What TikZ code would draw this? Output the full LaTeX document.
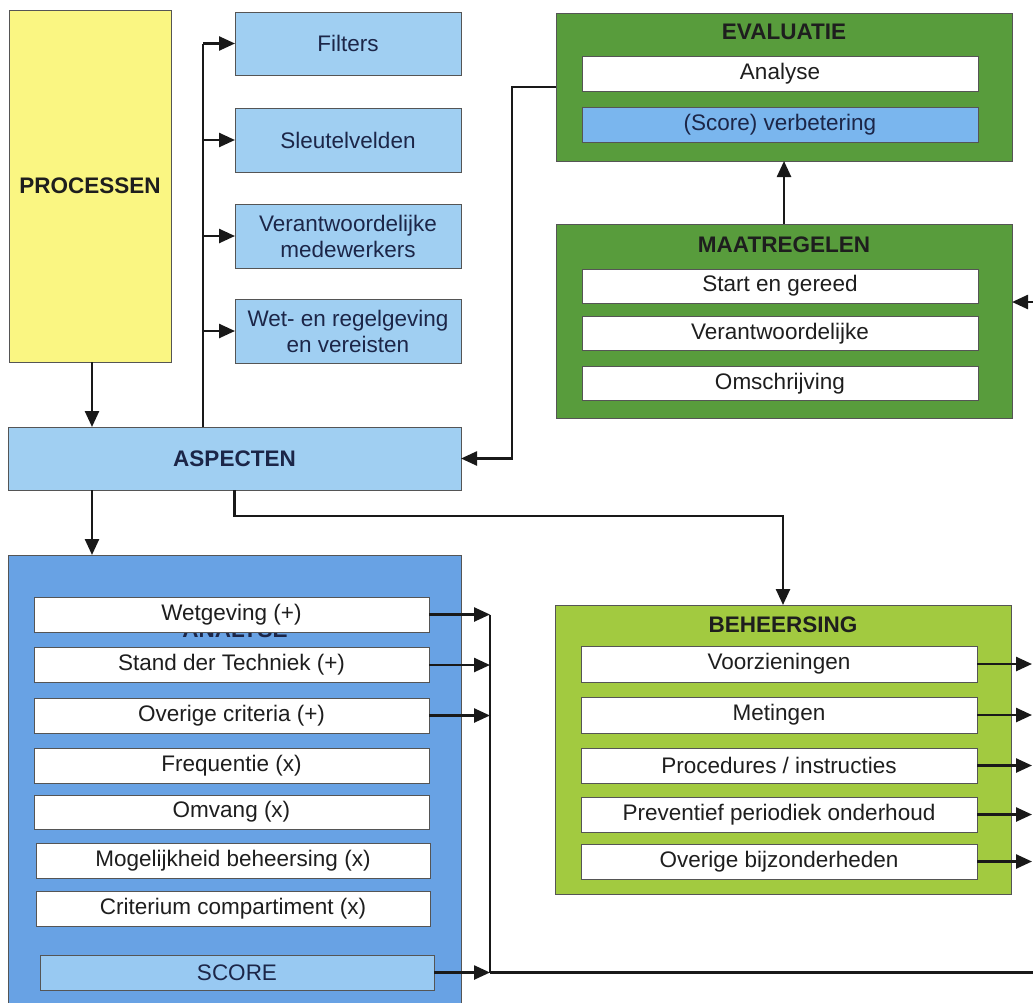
\documentclass[tikz,border=0pt]{standalone}
\usepackage{fontspec}
\setmainfont{Liberation Sans}
\usetikzlibrary{arrows.meta,calc}
\definecolor{yel}{RGB}{250,246,130}
\definecolor{lblue}{RGB}{160,207,242}
\definecolor{ablue}{RGB}{104,162,228}
\definecolor{sblue}{RGB}{122,182,238}
\definecolor{scblue}{RGB}{152,201,242}
\definecolor{dgreen}{RGB}{88,156,60}
\definecolor{lgreen}{RGB}{162,202,64}
\definecolor{navy}{RGB}{28,38,72}
\definecolor{txt}{RGB}{30,30,30}
\definecolor{boxline}{RGB}{85,85,85}
\definecolor{lineclr}{RGB}{25,25,25}
\begin{document}
\begin{tikzpicture}[x=1pt,y=-1pt,
  box/.style={draw=boxline, line width=0.8pt, inner sep=0pt, outer sep=0pt, align=center, font=\fontsize{22.5}{26}\selectfont},
  bluebox/.style={box, fill=lblue, text=navy},
  wbox/.style={box, fill=white, text=txt, minimum height=35pt},
  ttl/.style={font=\bfseries\fontsize{22.5}{26}\selectfont, inner sep=0pt},
  ln/.style={line width=2.5pt, draw=lineclr},
  arr/.style={ln, -{Triangle[length=16pt,width=14pt]}}]
\useasboundingbox (0,0) rectangle (1033,1002);

% left column
\node[box, fill=yel, minimum width=162pt, minimum height=352pt, font=\bfseries\fontsize{22.5}{26}\selectfont, text=txt] (proc) at (90,186) {PROCESSEN};
\node[bluebox, minimum width=226pt, minimum height=63pt] (filt) at (348,43.5) {Filters};
\node[bluebox, minimum width=226pt, minimum height=64pt] (sleu) at (348,140) {Sleutelvelden};
\node[bluebox, minimum width=226pt, minimum height=64pt] (verm) at (348,236) {Verantwoordelijke\\medewerkers};
\node[bluebox, minimum width=226pt, minimum height=64pt] (wetr) at (348,331) {Wet- en regelgeving\\en vereisten};
\node[bluebox, minimum width=453pt, minimum height=63pt, font=\bfseries\fontsize{22.5}{26}\selectfont] (asp) at (234.5,458.5) {ASPECTEN};

% ANALYSE
\node[box, fill=ablue, minimum width=453pt, minimum height=452pt, anchor=north] (ana) at (234.5,555) {};
\node[ttl, text=navy, anchor=base] (analab) at (235,637) {ANALYSE};
\node[wbox, minimum width=395pt] (a1) at (231.5,614.5) {Wetgeving (+)};
\node[wbox, minimum width=395pt] (a2) at (231.5,665) {Stand der Techniek (+)};
\node[wbox, minimum width=395pt] (a3) at (231.5,715.5) {Overige criteria (+)};
\node[wbox, minimum width=395pt] (a4) at (231.5,765.5) {Frequentie (x)};
\node[wbox, minimum width=395pt, minimum height=34pt] (a5) at (231.5,812) {Omvang (x)};
\node[wbox, minimum width=394pt] (a6) at (233,860.5) {Mogelijkheid beheersing (x)};
\node[wbox, minimum width=394pt] (a7) at (233,908.5) {Criterium compartiment (x)};
\node[box, fill=scblue, text=navy, minimum width=394pt, minimum height=35pt] (score) at (237,972.5) {SCORE};

% EVALUATIE
\node[box, fill=dgreen, minimum width=456pt, minimum height=148pt] (eval) at (784,87) {};
\node[ttl, text=txt] (evallab) at (784,32) {EVALUATIE};
\node[wbox, minimum width=396pt] (e1) at (780,73.5) {Analyse};
\node[box, fill=sblue, text=navy, minimum width=396pt, minimum height=35pt] (e2) at (780,124.5) {(Score) verbetering};

% MAATREGELEN
\node[box, fill=dgreen, minimum width=456pt, minimum height=194pt] (maat) at (784,321) {};
\node[ttl, text=txt] (maatlab) at (784,245) {MAATREGELEN};
\node[wbox, minimum width=396pt, minimum height=34pt] (m1) at (780,286) {Start en gereed};
\node[wbox, minimum width=396pt, minimum height=34pt] (m2) at (780,333.5) {Verantwoordelijke};
\node[wbox, minimum width=396pt, minimum height=34pt] (m3) at (780,383.5) {Omschrijving};

% BEHEERSING
\node[box, fill=lgreen, minimum width=456pt, minimum height=289pt] (beh) at (783,749.5) {};
\node[ttl, text=txt] (behlab) at (783,625) {BEHEERSING};
\node[wbox, minimum width=396pt, minimum height=36pt] (b1) at (779,664) {Voorzieningen};
\node[wbox, minimum width=396pt, minimum height=36pt] (b2) at (779,715) {Metingen};
\node[wbox, minimum width=396pt] (b3) at (779,765.5) {Procedures / instructies};
\node[wbox, minimum width=396pt] (b4) at (779,814.5) {Preventief periodiek onderhoud};
\node[wbox, minimum width=396pt] (b5) at (779,861.5) {Overige bijzonderheden};

% connectors
\coordinate (tr) at (203,0);
\draw[ln] (tr |- asp.north) -- (tr |- filt.west);
\draw[arr] (tr |- filt.west) -- (filt.west);
\draw[arr] (tr |- sleu.west) -- (sleu.west);
\draw[arr] (tr |- verm.west) -- (verm.west);
\draw[arr] (tr |- wetr.west) -- (wetr.west);

\coordinate (pc) at (92,0);
\draw[arr] (pc |- proc.south) -- (pc |- asp.north);
\draw[arr] (pc |- asp.south) -- (pc |- ana.north);

\coordinate (ev) at (512,0);
\draw[arr] (eval.west) -- (ev |- eval.west) |- (asp.east);
\draw[arr] (maat.north) -- (eval.south);
\coordinate (rin) at (1034,302);
\draw[arr] (rin) -- (maat.east |- rin);

\draw[arr] (asp.south) -- ++(0,26) -| (beh.north);

\coordinate (bus) at (490,0);
\draw[arr] (a1.east) -- (bus |- a1.east);
\draw[arr] (a2.east) -- (bus |- a2.east);
\draw[arr] (a3.east) -- (bus |- a3.east);
\draw[arr] (score.east) -- (bus |- score.east);
\draw[ln] (bus |- a1.east) -- (bus |- score.east);
\coordinate (rout) at (1034,972.5);
\draw[ln] (bus |- score.east) -- (rout);

\coordinate (re) at (1032,0);
\draw[arr] (b1.east) -- (re |- b1.east);
\draw[arr] (b2.east) -- (re |- b2.east);
\draw[arr] (b3.east) -- (re |- b3.east);
\draw[arr] (b4.east) -- (re |- b4.east);
\draw[arr] (b5.east) -- (re |- b5.east);
\end{tikzpicture}
\end{document}
